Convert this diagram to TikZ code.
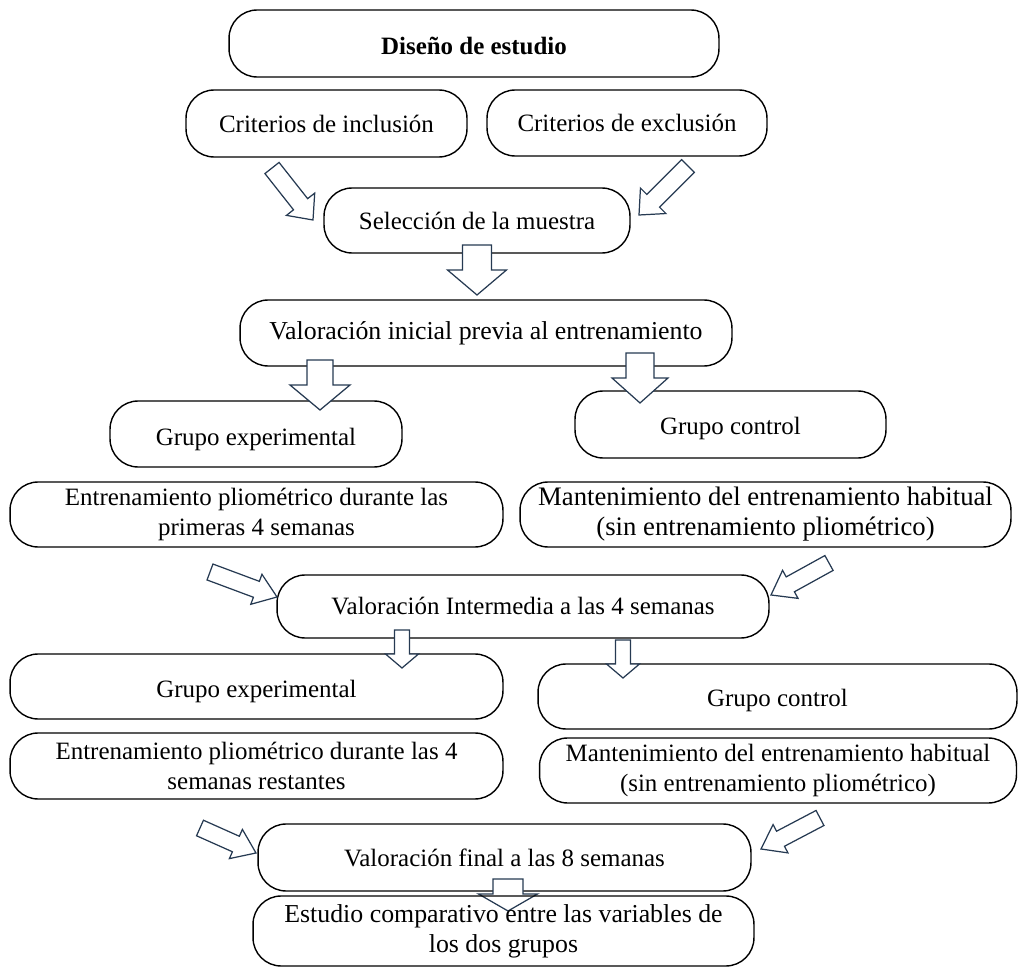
\documentclass[tikz,border=0pt]{standalone}
\usepackage{fontspec}
\setmainfont{Liberation Serif}
\usetikzlibrary{calc}

\definecolor{bordeflecha}{RGB}{38,58,82}

\tikzset{
  caja/.style={draw, line width=0.8pt, rounded corners=16pt, align=center,
    inner sep=0pt, font=\fontsize{14.2}{16.6}\selectfont},
  grande/.style={font=\fontsize{14.7}{17.2}\selectfont},
  flecha/.style={draw=bordeflecha, fill=white, line width=0.7pt, line join=miter},
}

% baja el texto dentro de la caja sin cambiar su tamaño
\newcommand{\bajar}[2]{\raisebox{-#1}[\height][\depth]{#2}}

% flecha hueca: semiancho cuerpo, semiancho punta, largo punta, origen, destino
\newcommand{\flecha}[5]{%
  \draw[flecha] let \p1=($(#5)-(#4)$), \n1={atan2(\y1,\x1)}, \n2={veclen(\x1,\y1)} in
    ($(#4)+(\n1-90:#1*0.02cm)$) -- ++(\n1:{\n2-#3*0.02cm}) -- ++(\n1-90:{(#2-#1)*0.02cm})
    -- (#5) -- ($(#4)+(\n1:{\n2-#3*0.02cm})+(\n1+90:#2*0.02cm)$)
    -- ++(\n1-90:{(#2-#1)*0.02cm}) -- ($(#4)+(\n1+90:#1*0.02cm)$) -- cycle;}

\begin{document}
\begin{tikzpicture}[x=0.02cm, y=-0.02cm]
  \useasboundingbox (0,0) rectangle (1019,969);

  % Cajas principales
  \node [caja, minimum width=9.80cm, minimum height=1.34cm] (diseno) at (474,43.5) {\bajar{1.5pt}{\textbf{Diseño de estudio}}};
  \node [caja, minimum width=5.62cm, minimum height=1.34cm] (inclusion) at (326.5,123.5) {Criterios de inclusión};
  \node [caja, minimum width=5.60cm, minimum height=1.32cm] (exclusion) at (627,123) {Criterios de exclusión};
  \node [caja, minimum width=6.12cm, minimum height=1.30cm] (muestra) at (477,220.5) {Selección de la muestra};
  \node [caja, grande, minimum width=9.84cm, minimum height=1.32cm] (inicial) at (486,333) {Valoración inicial previa al entrenamiento};

  \node [caja, minimum width=5.84cm, minimum height=1.32cm] (exp1) at (256,434) {\bajar{3pt}{Grupo experimental}};
  \node [caja, minimum width=6.22cm, minimum height=1.34cm] (ctrl1) at (730.5,424.5) {\bajar{2pt}{Grupo control}};
  \node [caja, minimum width=9.86cm, minimum height=1.30cm] (entr1) at (256.5,514.5) {Entrenamiento pliométrico durante las\\primeras 4 semanas};
  \node [caja, minimum width=9.82cm, minimum height=1.30cm, font=\fontsize{15.2}{17}\selectfont] (mant1) at (765.5,514.5) {Mantenimiento del entrenamiento habitual\\(sin entrenamiento pliométrico)};

  \node [caja, minimum width=9.84cm, minimum height=1.26cm] (intermedia) at (523,606.5) {Valoración Intermedia a las 4 semanas};

  \node [caja, minimum width=9.86cm, minimum height=1.30cm] (exp2) at (256.5,686.5) {\bajar{3pt}{Grupo experimental}};
  \node [caja, minimum width=9.58cm, minimum height=1.30cm] (ctrl2) at (777.5,696.5) {\bajar{2pt}{Grupo control}};
  \node [caja, minimum width=9.86cm, minimum height=1.32cm] (entr2) at (256.5,766) {Entrenamiento pliométrico durante las 4\\semanas restantes};
  \node [caja, minimum width=9.54cm, minimum height=1.30cm] (mant2) at (778,770.5) {Mantenimiento del entrenamiento habitual\\(sin entrenamiento pliométrico)};

  \node [caja, minimum width=9.86cm, minimum height=1.34cm] (final) at (504.5,857.5) {Valoración final a las 8 semanas};

  % Extremos de las flechas
  \coordinate (f1a) at (272,168);  \coordinate (f1b) at (313,220);
  \coordinate (f2a) at (688,166);  \coordinate (f2b) at (639,215);
  \coordinate (f3a) at (477,245);  \coordinate (f3b) at (477,295);
  \coordinate (f4a) at (320,360);  \coordinate (f4b) at (320,410);
  \coordinate (f5a) at (640,353);  \coordinate (f5b) at (640,403);
  \coordinate (f6a) at (210,572);  \coordinate (f6b) at (277,597);
  \coordinate (f7a) at (829,563);  \coordinate (f7b) at (771,595);
  \coordinate (f8a) at (402,630);  \coordinate (f8b) at (402,668);
  \coordinate (f9a) at (623,640);  \coordinate (f9b) at (623,678);
  \coordinate (f10a) at (200,828); \coordinate (f10b) at (256,853);
  \coordinate (f11a) at (820,818); \coordinate (f11b) at (761,849);
  \coordinate (f12a) at (508,879); \coordinate (f12b) at (508,911);

  \flecha{9}{18}{20}{f1a}{f1b}
  \flecha{9}{18}{20}{f2a}{f2b}
  \flecha{14.5}{29.5}{25}{f3a}{f3b}
  \flecha{13}{30}{25}{f4a}{f4b}
  \flecha{14}{28}{25}{f5a}{f5b}
  \flecha{8.5}{16}{22}{f6a}{f6b}
  \flecha{8.5}{16}{22}{f7a}{f7b}
  \flecha{7.5}{16.5}{14}{f8a}{f8b}
  \flecha{7.5}{16.5}{14}{f9a}{f9b}
  \flecha{8.5}{16}{22}{f10a}{f10b}
  \flecha{8.5}{16}{22}{f11a}{f11b}
  \flecha{15}{29.5}{17}{f12a}{f12b}

  % ultima caja encima de la flecha
  \node [caja, grande, minimum width=10.02cm, minimum height=1.40cm] (estudio) at (503.5,931) {Estudio comparativo entre las variables de\\los dos grupos};
\end{tikzpicture}
\end{document}
